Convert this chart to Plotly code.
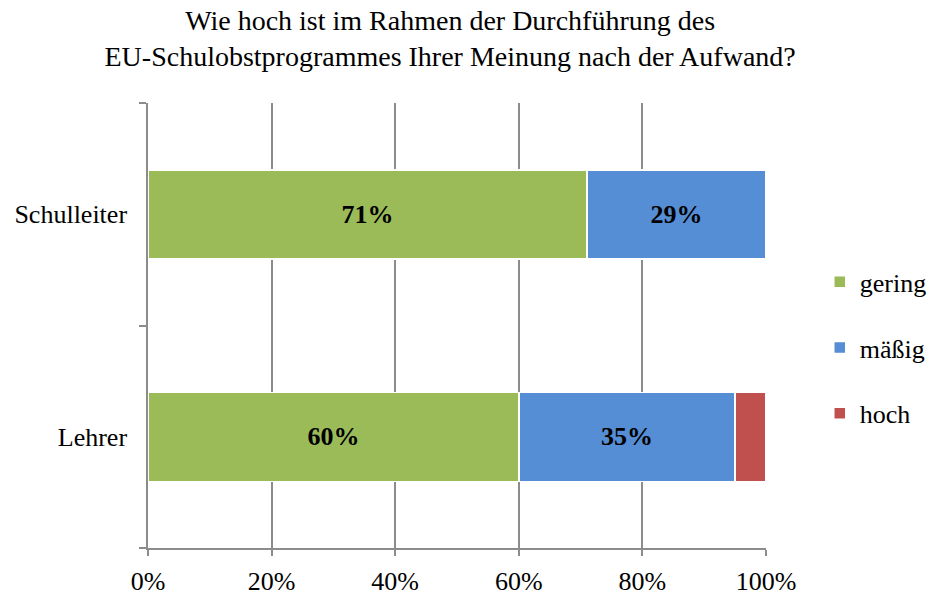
import plotly.graph_objects as go

groups = ['Lehrer', 'Schulleiter']
gering = [60, 71]
maessig = [35, 29]
hoch = [5, 0]
gering_text = ['60%', '71%']
maessig_text = ['35%', '29%']
hoch_text = ['', '']
x_ticks = [0, 20, 40, 60, 80, 100]
x_tick_text = ['0%', '20%', '40%', '60%', '80%', '100%']

colors = {'gering': '#9BBB59', 'mäßig': '#558ED5', 'hoch': '#C0504D'}
serif = 'Liberation Serif, serif'


def make_bar(name, values, labels):
    return go.Bar(y=groups, x=values, name=name, orientation='h',
                  text=labels, textposition='inside', insidetextanchor='middle',
                  textfont=dict(family=serif, size=26, color='black', weight='bold'),
                  marker=dict(color=colors[name], line=dict(color='white', width=1.5)),
                  width=0.4, legendgroup=name)


fig = go.Figure()
fig.add_trace(make_bar('gering', gering, gering_text))
fig.add_trace(make_bar('mäßig', maessig, maessig_text))
fig.add_trace(make_bar('hoch', hoch, hoch_text))

fig.update_layout(
    width=930, height=595, barmode='stack',
    paper_bgcolor='white', plot_bgcolor='white',
    font=dict(family=serif, size=26, color='black'),
    margin=dict(l=148, r=164, t=103, b=47, autoexpand=False),
    title=dict(text='Wie hoch ist im Rahmen der Durchführung des<br>'
                    'EU-Schulobstprogrammes Ihrer Meinung nach der Aufwand?',
               x=0.484, xanchor='center', yref='container', y=0.95, yanchor='middle',
               automargin=False, font=dict(family=serif, size=28)),
    legend=dict(x=1.087, xanchor='left', y=0.45, yanchor='middle',
                traceorder='grouped', tracegroupgap=29,
                font=dict(family=serif, size=26)),
    uniformtext=dict(mode='show', minsize=10),
)
fig.update_xaxes(range=[0, 100], tickmode='array', tickvals=x_ticks, ticktext=x_tick_text,
                 showgrid=True, gridcolor='#8C8C8C', gridwidth=1.5,
                 showline=True, linecolor='#8C8C8C', linewidth=1.5,
                 ticks='outside', ticklen=6, tickcolor='#8C8C8C', tickwidth=1.5,
                 zeroline=False, ticklabelstandoff=3, automargin=False)
fig.update_yaxes(range=[-0.5, 1.5], tickson='boundaries', showgrid=False,
                 showline=True, linecolor='#8C8C8C', linewidth=1.5,
                 ticks='outside', ticklen=7, tickcolor='#8C8C8C', tickwidth=1.5,
                 ticklabelstandoff=14, automargin=False)

# the page keeps the default body margin otherwise, which shifts the chart by 8px
fig.write_html('out.html', config={'displayModeBar': False},
               post_script="document.body.style.margin='0';")
